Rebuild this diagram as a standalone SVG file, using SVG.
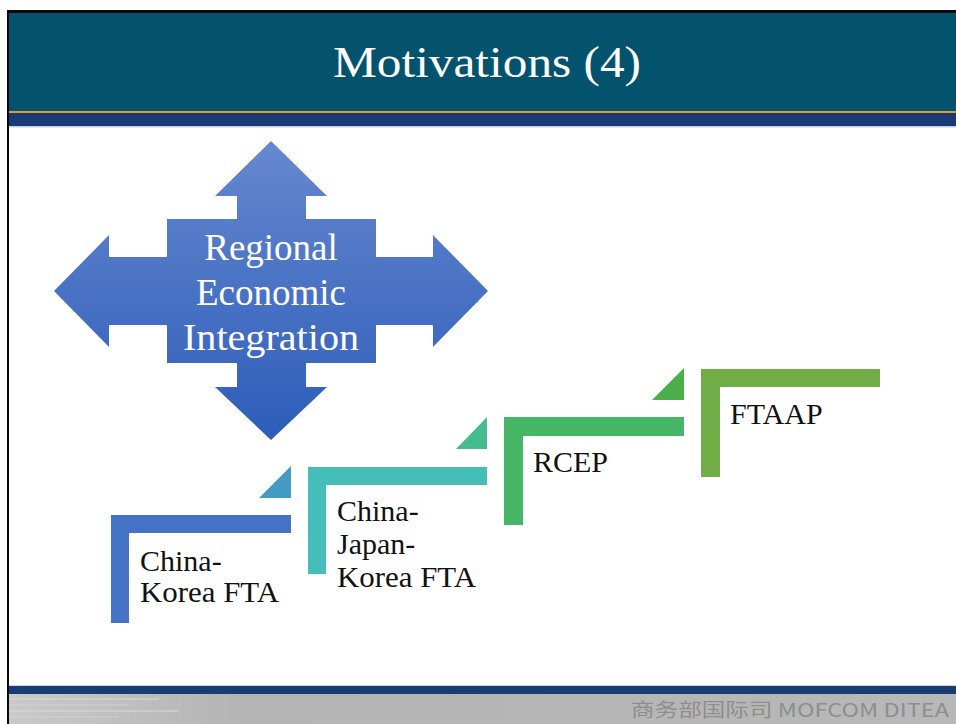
<svg xmlns="http://www.w3.org/2000/svg" width="956" height="724" viewBox="0 0 956 724">
  <defs>
    <linearGradient id="crossGrad" x1="0" y1="0" x2="0" y2="1">
      <stop offset="0" stop-color="#6688CF"/>
      <stop offset="1" stop-color="#2D5DB9"/>
    </linearGradient>
    <linearGradient id="footGrad" x1="0" y1="0" x2="1" y2="0">
      <stop offset="0" stop-color="#C9C9C9"/>
      <stop offset="0.25" stop-color="#B4B4B4"/>
      <stop offset="1" stop-color="#B8B8B8"/>
    </linearGradient>
    <style>
      .serif { font-family: "Liberation Serif", "DejaVu Serif", serif; }
      .lbl { font-family: "Liberation Serif", "DejaVu Serif", serif; font-size: 30px; fill: #111111; }
      .cross-text { font-family: "Liberation Serif", "DejaVu Serif", serif; font-size: 37px; fill: #FFFFFF; text-anchor: middle; }
    </style>
  </defs>

  <!-- background -->
  <rect x="0" y="0" width="956" height="724" fill="#FFFFFF"/>

  <!-- header -->
  <rect x="7" y="10" width="949" height="3" fill="#0A0A0A"/>
  <rect x="9" y="13" width="947" height="98" fill="#03536F"/>
  <rect x="9" y="111" width="947" height="2" fill="#D9A026"/>
  <rect x="9" y="113" width="947" height="13" fill="#1A3A73"/>
  <rect x="9" y="126" width="947" height="1.5" fill="#C8D2E6"/>
  <text class="serif" x="487" y="77" font-size="45" fill="#FFFFFF" text-anchor="middle" textLength="308" lengthAdjust="spacingAndGlyphs">Motivations (4)</text>

  <!-- footer -->
  <rect x="9" y="685" width="947" height="1.5" fill="#C8D2E6"/>
  <rect x="9" y="686" width="947" height="8" fill="#1B3B74"/>
  <rect x="9" y="694" width="947" height="30" fill="url(#footGrad)"/>
  <g opacity="0.5">
    <rect x="9" y="698" width="150" height="2" fill="#DADADA"/>
    <rect x="9" y="704" width="120" height="1.5" fill="#D5D5D5"/>
    <rect x="9" y="710" width="170" height="2" fill="#DADADA"/>
    <rect x="9" y="716" width="110" height="1.5" fill="#D5D5D5"/>
  </g>
  <text x="631" y="717" font-family="'Noto Sans CJK SC', 'Noto Sans', sans-serif" font-size="19" fill="#8E8E8E" textLength="318" lengthAdjust="spacingAndGlyphs">商务部国际司 MOFCOM DITEA</text>

  <!-- left border -->
  <rect x="7" y="10" width="2" height="714" fill="#0A0A0A"/>

  <!-- central cross -->
  <g id="regional-economic-integration">
    <polygon fill="url(#crossGrad)" points="271,141 327,196 306,196 306,219 376,219 376,257 433,257 433,235 488,291 433,347 433,325 376,325 376,363 306,363 306,387 327,387 271,440 215,387 237,387 237,363 167,363 167,325 109,325 109,347 54,291 109,235 109,257 167,257 167,219 237,219 237,196 215,196"/>
    <text class="cross-text" x="271" y="260">Regional</text>
    <text class="cross-text" x="271" y="305">Economic</text>
    <text class="cross-text" x="271" y="350" textLength="176" lengthAdjust="spacingAndGlyphs">Integration</text>
  </g>

  <!-- steps -->
  <g id="china-korea-fta">
    <polygon fill="#4472C4" points="111,515 291,515 291,533 129,533 129,623 111,623"/>
    <polygon fill="#449BC2" points="291,466 291,498 259,498"/>
    <text class="lbl" x="140" y="571">China-</text>
    <text class="lbl" x="140" y="602" textLength="139" lengthAdjust="spacingAndGlyphs">Korea FTA</text>
  </g>

  <g id="china-japan-korea-fta">
    <polygon fill="#45BEB9" points="308,467 487,467 487,485 326,485 326,574 308,574"/>
    <polygon fill="#45BC8E" points="487,417 487,449 456,449"/>
    <text class="lbl" x="337" y="521">China-</text>
    <text class="lbl" x="337" y="554">Japan-</text>
    <text class="lbl" x="337" y="587" textLength="139" lengthAdjust="spacingAndGlyphs">Korea FTA</text>
  </g>

  <g id="rcep">
    <polygon fill="#47B566" points="504,417 684,417 684,436 523,436 523,525 504,525"/>
    <polygon fill="#4CB04A" points="684,368 684,400 652,400"/>
    <text class="lbl" x="533" y="472">RCEP</text>
  </g>

  <g id="ftaap">
    <polygon fill="#70AD47" points="701,369 880,369 880,387 720,387 720,477 701,477"/>
    <text class="lbl" x="730" y="424">FTAAP</text>
  </g>

  <g id="connectors"></g>
</svg>
